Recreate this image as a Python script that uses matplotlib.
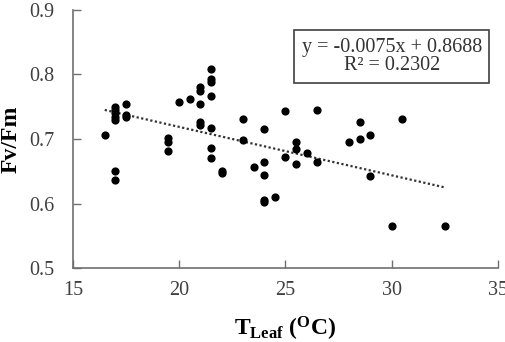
import numpy as np
import matplotlib
matplotlib.use("Agg")
import matplotlib.pyplot as plt

plt.rcParams['font.family'] = ['Liberation Serif', 'DejaVu Serif']
plt.rcParams['mathtext.fontset'] = 'custom'
plt.rcParams['mathtext.rm'] = 'Liberation Serif'
plt.rcParams['mathtext.bf'] = 'Liberation Serif:bold'

# leaf temperature (°C) and Fv/Fm
t_leaf = [16.5, 17, 17, 17, 17, 17, 17, 17,
          17.5, 17.5, 17.5,
          19.5, 19.5, 19.5, 20, 20.5,
          21, 21, 21, 21, 21,
          21.5, 21.5, 21.5, 21.5, 21.5, 21.5, 21.5,
          22, 22, 23, 23, 23.5,
          24, 24, 24, 24, 24, 24.5,
          25, 25, 25.5, 25.5, 25.5, 26, 26.5, 26.5,
          28, 28.5, 28.5, 29, 29, 30, 30.5, 32.5]
fv_fm = [0.707, 0.750, 0.745, 0.740, 0.734, 0.729, 0.651, 0.636,
         0.755, 0.737, 0.734,
         0.701, 0.696, 0.682, 0.758, 0.762,
         0.780, 0.775, 0.755, 0.726, 0.721,
         0.808, 0.793, 0.789, 0.767, 0.717, 0.686, 0.671,
         0.651, 0.648, 0.731, 0.698, 0.657,
         0.716, 0.665, 0.645, 0.606, 0.603, 0.610,
         0.743, 0.672, 0.696, 0.684, 0.662, 0.679, 0.745, 0.665,
         0.696, 0.726, 0.700, 0.706, 0.643, 0.565, 0.731, 0.565]

slope = -0.0075
intercept = 0.8688
r2 = 0.2302

fig = plt.figure(figsize=(5.06, 3.42), dpi=100)
ax = fig.add_axes([0.144, 0.216, 0.84, 0.755])

ax.scatter(t_leaf, fv_fm, s=24, color='black', zorder=3)

xl = np.array([min(t_leaf), max(t_leaf)])
ax.plot(xl, slope * xl + intercept, linestyle=(0, (1, 1.1)), color='#333333', linewidth=1.6)

ax.set_xlim(15, 35)
ax.set_ylim(0.5, 0.9)
ax.set_xticks([15, 20, 25, 30, 35])
ax.set_yticks([0.5, 0.6, 0.7, 0.8, 0.9])
ax.set_yticklabels(['0.5', '0.6', '0.7', '0.8', '0.9'])

for s in ['top', 'right']:
    ax.spines[s].set_visible(False)
for s in ['left', 'bottom']:
    ax.spines[s].set_color('#707070')
    ax.spines[s].set_linewidth(1.2)

ax.tick_params(direction='in', length=6, width=1, color='#707070',
               labelsize=14.5, labelcolor='#404040')
ax.tick_params(axis='y', pad=13)
ax.tick_params(axis='x', pad=9)

ax.set_ylabel('Fv/Fm', fontsize=17, fontweight='bold', labelpad=6)
ax.set_xlabel(r'$\mathbf{T_{Leaf}}$ $\mathbf{(^{O}C)}$', fontsize=17, labelpad=11)

ax.text(0.75, 0.82, f'y = {slope}x + {intercept}\nR² = {r2}',
        transform=ax.transAxes, ha='center', va='center', fontsize=14.5,
        color='#333333', linespacing=0.95,
        bbox=dict(boxstyle='square,pad=0.38', facecolor='white',
                  edgecolor='#404040', linewidth=1.2))

fig.savefig('out.png', dpi=100)
